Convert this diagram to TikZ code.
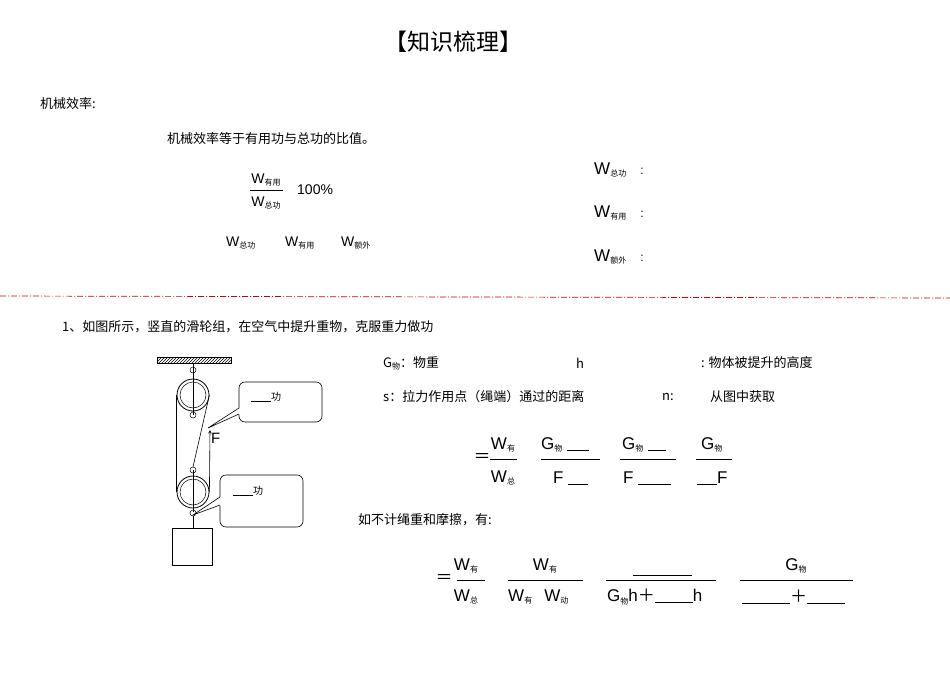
\documentclass[tikz,border=0pt]{standalone}
\usepackage{fontspec}
\setmainfont{Liberation Sans}
\newfontfamily\cjk{Noto Sans CJK SC}
\usetikzlibrary{patterns}
\begin{document}
\begin{tikzpicture}[x=1pt,y=-1pt,
  t/.style={anchor=west,inner sep=0pt,font=\cjk\fontsize{13}{15}\selectfont},
  W/.style={inner sep=0pt,font=\fontsize{14}{16}\selectfont},
  F/.style={inner sep=0pt,font=\fontsize{17}{19}\selectfont},
  fl/.style={line width=0.5pt},
  call/.style={draw,rounded corners=6pt,line width=0.6pt},
  rope/.style={line width=0.6pt}]
\newcommand{\sub}[1]{\raisebox{-0.3ex}{\cjk\fontsize{8}{9}\selectfont #1}}
\useasboundingbox (0,0) rectangle (950,672);
\node[inner sep=0pt,font=\cjk\fontsize{23}{26}\selectfont] (title) at (453,42) {【知识梳理】};
\node[t] (a) at (40,104) {机械效率:};
\node[t] (b) at (167,139) {机械效率等于有用功与总功的比值。};
% fraction 1
\node[W] (n1) at (266,180) {W\sub{有用}};
\node[W] (d1) at (266,203) {W\sub{总功}};
\draw[fl] (250,190) -- (283,190);
\node[W,anchor=west] (p) at (297,190) {100\%};
\node[W,anchor=west] (w1) at (226,243) {W\sub{总功}};
\node[W,anchor=west] (w2) at (285,243) {W\sub{有用}};
\node[W,anchor=west] (w3) at (341,243) {W\sub{额外}};
\node[F,anchor=west] (r1) at (594,170) {W\sub{总功}\hspace{14pt}{\fontsize{12}{12}\selectfont :}};
\node[F,anchor=west] (r2) at (594,213) {W\sub{有用}\hspace{14pt}{\fontsize{12}{12}\selectfont :}};
\node[F,anchor=west] (r3) at (594,257) {W\sub{额外}\hspace{14pt}{\fontsize{12}{12}\selectfont :}};
\draw[red!80!black,line width=0.7pt,dash pattern=on 6pt off 2pt on 1pt off 2pt] (0,296) -- (950,298);
\node[t] (q) at (62,327) {1、如图所示，竖直的滑轮组，在空气中提升重物，克服重力做功};
\node[t] (g) at (383,363) {G\sub{物}：物重};
\node[t] (h) at (576,363) {h};
\node[t] (h2) at (701,363) {: 物体被提升的高度};
\node[t] (s) at (383,397) {s：拉力作用点（绳端）通过的距离};
\node[t] (n) at (662,397) {n:};
\node[t] (n2) at (710,397) {从图中获取};
% row 1
\node[F,font=\cjk\fontsize{17}{19}\selectfont] (eq1) at (482,458) {＝};
\node[F] (a1) at (503,445) {W\sub{有}};
\node[F] (a2) at (503,478) {W\sub{总}};
\draw[fl] (490,459) -- (517,459);
\node[F,anchor=west] (b1) at (541,445) {G\sub{物} \rule[-1pt]{22pt}{0.5pt}};
\node[F,anchor=west] (b2) at (553,478) {F \rule[-1pt]{20pt}{0.5pt}};
\draw[fl] (541,459) -- (600,459);
\node[F,anchor=west] (c1) at (622,445) {G\sub{物} \rule[-1pt]{18pt}{0.5pt}};
\node[F,anchor=west] (c2) at (623,478) {F \rule[-1pt]{33pt}{0.5pt}};
\draw[fl] (620,459) -- (676,459);
\node[F,anchor=west] (e1) at (701,445) {G\sub{物}};
\draw[fl] (696,459) -- (732,459);
\node[F,anchor=west] (e2) at (697,478) {\rule[-1pt]{20pt}{0.5pt}F};
\node[t] (k) at (358,520) {如不计绳重和摩擦，有:};
% row 2
\node[F,font=\cjk\fontsize{17}{19}\selectfont] (eq2) at (444,579) {＝};
\node[F] (f1) at (466,566) {W\sub{有}};
\node[F] (f2) at (466,597) {W\sub{总}};
\draw[fl] (457,580) -- (485,580);
\node[F] (g1) at (545,566) {W\sub{有}};
\draw[fl] (508,580) -- (583,580);
\node[F,anchor=west] (g2) at (508,597) {W\sub{有}\hspace{12pt}W\sub{动}};
\draw[fl] (633,575) -- (692,575);
\draw[fl] (606,580) -- (716,580);
\node[F,anchor=west] (i2) at (607,597) {G\sub{物}h{\cjk ＋}\rule[-1pt]{38pt}{0.5pt}h};
\node[F] (j1) at (796,566) {G\sub{物}};
\draw[fl] (740,580) -- (853,580);
\node[F,anchor=west] (j2) at (742,597) {\rule[-1pt]{48pt}{0.5pt}{\cjk ＋}\rule[-1pt]{38pt}{0.5pt}};
% pulley drawing
\fill[pattern=north east lines] (157,357) rectangle (231,363);
\draw[line width=0.4pt] (157,357) rectangle (231,363);
\node[draw,circle,minimum size=32pt,line width=0.8pt,inner sep=0pt] (tp) at (193,395) {};
\node[draw,circle,minimum size=26pt,line width=0.5pt,inner sep=0pt] at (193,395) {};
\node[draw,circle,minimum size=32pt,line width=0.8pt,inner sep=0pt] (bp) at (193,492) {};
\node[draw,circle,minimum size=26pt,line width=0.5pt,inner sep=0pt] at (193,492) {};
\draw[line width=1pt] (193,363) -- (193,415);
\draw[line width=1pt] (193,470) -- (193,512);
\draw[line width=0.5pt] (193,370) circle (3);
\draw[line width=0.5pt] (193,415) circle (3);
\draw[line width=0.5pt] (193,470) circle (3);
\draw[line width=0.5pt] (193,513) circle (3);
\draw[rope] (tp.west) -- (bp.west);
\draw[rope] (tp.east) -- (193,467);
\coordinate (fe) at (210,430);
\draw[rope,-stealth] (bp.east) -- (fe);
\node[F,anchor=west,font=\fontsize{15}{16}\selectfont] (Fl) at (211,438) {F};
\draw[line width=0.8pt] (193,516) -- (193,528);
\node[draw,line width=0.6pt,minimum width=40pt,minimum height=37pt,inner sep=0pt] (box) at (192,546.5) {};
% callouts
\draw[call] (239,382) rectangle (322,422);
\draw[fill=white,draw=white] (240,408) -- (208,428) -- (240,414) -- cycle;
\draw[line width=0.6pt] (239,408) -- (208,428) -- (239,414);
\node[inner sep=0pt,font=\cjk\fontsize{10}{11}\selectfont] (c1t) at (266,397) {\rule[-1pt]{20pt}{0.4pt}功};
\draw[call] (220,475) rectangle (303,527);
\draw[fill=white,draw=white] (221,497) -- (193,515) -- (221,505) -- cycle;
\draw[line width=0.6pt] (220,497) -- (193,515) -- (220,505);
\node[inner sep=0pt,font=\cjk\fontsize{10}{11}\selectfont] (c2t) at (248,491) {\rule[-1pt]{20pt}{0.4pt}功};
\end{tikzpicture}
\end{document}
